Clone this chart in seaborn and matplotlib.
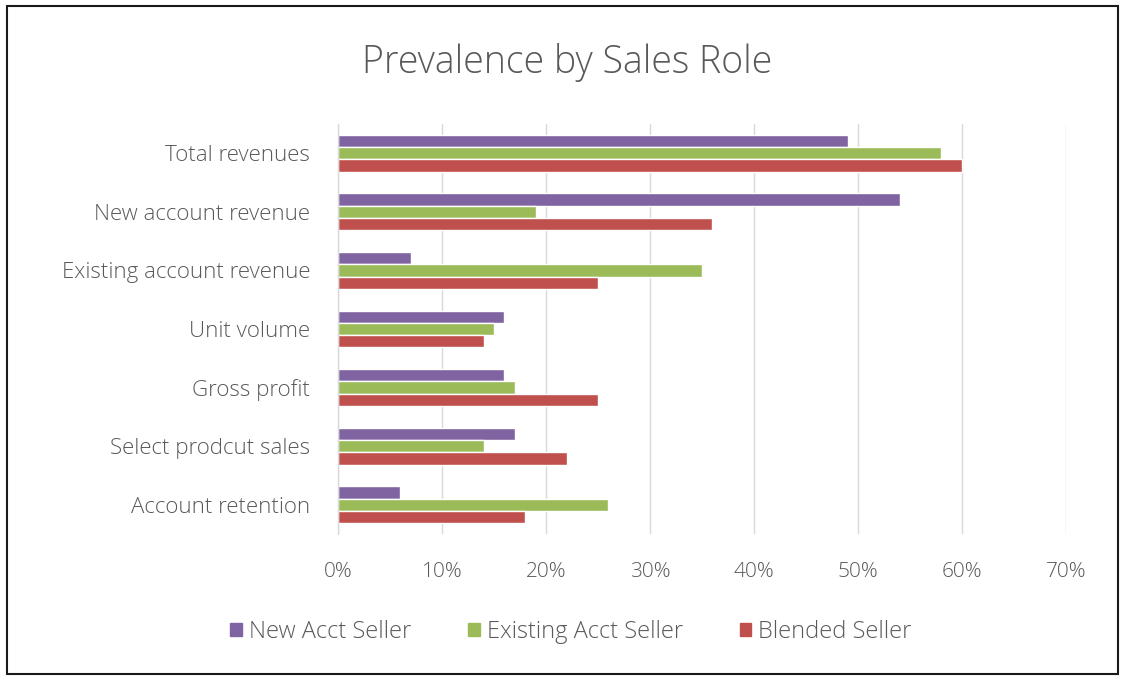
import matplotlib
matplotlib.use("Agg")
import matplotlib.pyplot as plt
import matplotlib.patches as mpatches
import seaborn as sns
import pandas as pd

categories = [
    "Total revenues",
    "New account revenue",
    "Existing account revenue",
    "Unit volume",
    "Gross profit",
    "Select prodcut sales",
    "Account retention",
]
series_names = ["New Acct Seller", "Existing Acct Seller", "Blended Seller"]
new_acct = [49, 54, 7, 16, 16, 17, 6]
existing_acct = [58, 19, 35, 15, 17, 14, 26]
blended = [60, 36, 25, 14, 25, 22, 18]
x_ticks = [0, 10, 20, 30, 40, 50, 60, 70]

colors = ["#8064A2", "#9BBB59", "#C0504D"]
text_color = "#595959"

rows = []
for name, vals in zip(series_names, [new_acct, existing_acct, blended]):
    for cat, v in zip(categories, vals):
        rows.append({"Metric": cat, "Role": name, "Share": v})
df = pd.DataFrame(rows)

sns.set_theme(style="white")
plt.rcParams["font.family"] = ["Open Sans", "DejaVu Sans"]

fig = plt.figure(figsize=(11.24, 6.77), dpi=100)
ax = fig.add_axes([0.3007, 0.2112, 0.6477, 0.6056])

sns.barplot(
    data=df, y="Metric", x="Share", hue="Role", order=categories,
    hue_order=series_names, palette=colors, orient="h", width=0.63,
    saturation=1, errorbar=None, ax=ax, legend=False,
)

ax.set_xlim(0, 70)
ax.set_xticks(x_ticks)
ax.set_xticklabels([f"{t}%" for t in x_ticks], color=text_color, fontsize=15,
                   fontweight="light")
ax.tick_params(axis="y", labelsize=16, colors=text_color, length=0, pad=20)
ax.tick_params(axis="x", length=0, pad=20)
for lbl in ax.get_yticklabels():
    lbl.set_fontweight("light")
ax.set_xlabel("")
ax.set_ylabel("")
ax.grid(axis="x", color="#D9D9D9", linewidth=1)
ax.set_axisbelow(True)
for side in ["top", "right", "bottom"]:
    ax.spines[side].set_visible(False)
ax.spines["left"].set_color("#D9D9D9")
ax.spines["left"].set_linewidth(1)

fig.text(0.505, 0.908, "Prevalence by Sales Role", ha="center", va="center",
         fontsize=27, color=text_color, fontweight="light")

handles = [mpatches.Patch(color=c, label=n) for c, n in zip(colors, series_names)]
leg = fig.legend(handles=handles, loc="center", bbox_to_anchor=(0.508, 0.067),
                 ncol=3, frameon=False, fontsize=17, handlelength=0.5,
                 handleheight=0.5, handletextpad=0.3, columnspacing=2.4)
for t in leg.get_texts():
    t.set_color(text_color)
    t.set_fontweight("light")

# outer frame of the chart area
fig.add_artist(mpatches.Rectangle((0.006, 0.004), 0.989, 0.987,
                                  transform=fig.transFigure, fill=False,
                                  edgecolor="#1a1a1a", linewidth=1.5))

fig.savefig("out.png", dpi=100, facecolor="white")
